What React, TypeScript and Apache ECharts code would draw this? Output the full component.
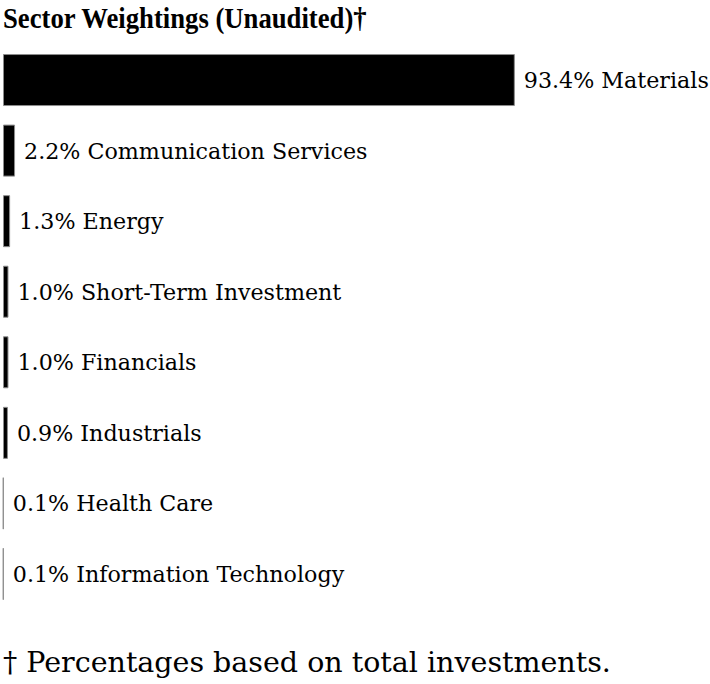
import React, { useEffect, useRef } from "react";
import * as echarts from "echarts";

const categories = [
  "Materials",
  "Communication Services",
  "Energy",
  "Short-Term Investment",
  "Financials",
  "Industrials",
  "Health Care",
  "Information Technology",
];
const values = [93.4, 2.2, 1.3, 1.0, 1.0, 0.9, 0.1, 0.1];
const titleText = "Sector Weightings (Unaudited)†";
const footnoteText = "† Percentages based on total investments.";

const FONT = "'DejaVu Serif', 'Liberation Serif', serif";
const TITLE_FONT = "'Liberation Serif', 'DejaVu Serif', serif";

export default function App() {
  const ref = useRef<HTMLDivElement>(null);
  useEffect(() => {
    document.body.style.margin = "0";
    if (!ref.current) return;
    const chart = echarts.init(ref.current, null, { renderer: "svg" });
    chart.setOption({
      animation: false,
      backgroundColor: "#ffffff",
      grid: { left: 3, top: 44.75, width: 548, height: 564.5, containLabel: false },
      xAxis: { type: "value", min: 0, max: 100, show: false },
      yAxis: {
        type: "category",
        data: categories,
        inverse: true,
        show: false,
      },
      series: [
        {
          type: "bar",
          data: values,
          barWidth: 52,
          itemStyle: { color: "#000", borderColor: "#8c8c8c", borderWidth: 1 },
          label: {
            show: true,
            position: "right",
            distance: 9,
            fontFamily: FONT,
            fontSize: 22.2,
            color: "#000",
            formatter: (p: any) => `${Number(p.value).toFixed(1)}% ${p.name}`,
          },
        },
      ],
      graphic: [
        {
          type: "text",
          x: 3,
          y: 18,
          scaleX: 0.89,
          style: {
            text: titleText,
            fontFamily: TITLE_FONT,
            fontWeight: "bold",
            fontSize: 30,
            fill: "#000",
            verticalAlign: "middle",
          },
        },
        {
          type: "text",
          x: 3,
          y: 662,
          style: {
            text: footnoteText,
            fontFamily: FONT,
            fontSize: 28.5,
            fill: "#000",
            verticalAlign: "middle",
          },
        },
      ],
    });
    return () => chart.dispose();
  }, []);
  return <div ref={ref} style={{ width: 710, height: 684 }} />;
}
